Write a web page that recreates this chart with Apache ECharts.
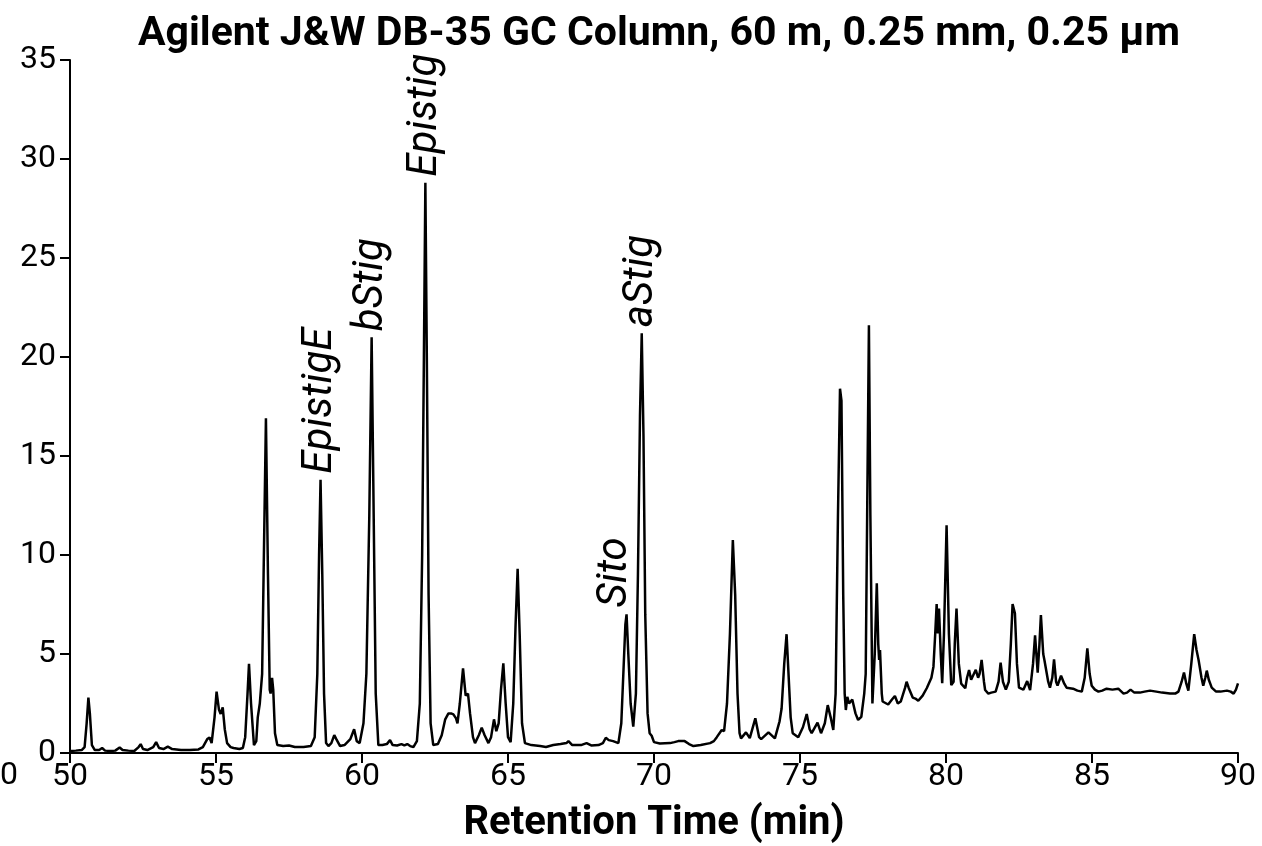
<!DOCTYPE html>
<html>
<head>
<meta charset="utf-8">
<script src="https://cdn.jsdelivr.net/npm/echarts@6/dist/echarts.min.js"></script>
<style>
  html, body { margin: 0; padding: 0; background: #fff; }
  #chart { width: 1262px; height: 846px; }
</style>
</head>
<body>
<div id="chart"></div>
<script>
// retention time (min) and detector signal
var retentionTime = [
  50.0, 50.2, 50.4, 50.5, 50.57, 50.63, 50.68, 50.75, 50.85, 51.0, 51.1, 51.2, 51.4, 51.55, 51.7, 51.8,
  52.0, 52.2, 52.35, 52.42, 52.5, 52.65, 52.85, 52.95, 53.05, 53.2, 53.35, 53.5, 53.8, 54.1, 54.4, 54.55,
  54.7, 54.78, 54.85, 54.95, 55.02, 55.1, 55.16, 55.23, 55.3, 55.38, 55.5, 55.6, 55.8, 55.92, 56.0, 56.08,
  56.13, 56.2, 56.3, 56.38, 56.43, 56.5, 56.58, 56.63, 56.71, 56.78, 56.84, 56.87, 56.92, 56.96, 57.02, 57.1,
  57.3, 57.5, 57.7, 58.0, 58.25, 58.38, 58.47, 58.53, 58.58, 58.64, 58.7, 58.77, 58.85, 58.95, 59.05, 59.12,
  59.25, 59.4, 59.6, 59.73, 59.82, 59.92, 60.05, 60.15, 60.25, 60.33, 60.4, 60.47, 60.56, 60.7, 60.85, 60.96,
  61.05, 61.2, 61.35, 61.45, 61.55, 61.65, 61.76, 61.88, 61.98, 62.06, 62.12, 62.17, 62.22, 62.28, 62.35, 62.44,
  62.6, 62.73, 62.85, 62.96, 63.05, 63.13, 63.22, 63.27, 63.35, 63.46, 63.55, 63.63, 63.7, 63.8, 63.87, 64.0,
  64.1, 64.2, 64.33, 64.42, 64.52, 64.6, 64.68, 64.76, 64.84, 64.92, 65.0, 65.09, 65.18, 65.26, 65.33, 65.4,
  65.48, 65.58, 65.8, 66.1, 66.3, 66.55, 66.8, 67.0, 67.07, 67.2, 67.5, 67.69, 67.85, 68.1, 68.25, 68.35,
  68.45, 68.6, 68.78, 68.88, 68.95, 69.02, 69.06, 69.12, 69.2, 69.29, 69.38, 69.45, 69.52, 69.58, 69.64, 69.7,
  69.78, 69.85, 69.92, 70.0, 70.2, 70.55, 70.7, 70.83, 70.89, 71.05, 71.2, 71.35, 71.6, 71.92, 72.05, 72.15,
  72.32, 72.4, 72.5, 72.6, 72.7, 72.78, 72.86, 72.93, 72.98, 73.15, 73.28, 73.47, 73.6, 73.67, 73.92, 74.14,
  74.3, 74.37, 74.46, 74.54, 74.6, 74.68, 74.75, 74.94, 75.1, 75.23, 75.33, 75.4, 75.6, 75.72, 75.85, 75.95,
  76.05, 76.14, 76.22, 76.3, 76.37, 76.42, 76.48, 76.53, 76.57, 76.62, 76.68, 76.79, 76.9, 76.99, 77.1, 77.2,
  77.25, 77.3, 77.36, 77.41, 77.48, 77.56, 77.63, 77.68, 77.71, 77.74, 77.8, 77.83, 78.02, 78.15, 78.25, 78.35,
  78.45, 78.6, 78.65, 78.72, 78.86, 78.95, 79.05, 79.2, 79.34, 79.5, 79.57, 79.63, 79.68, 79.72, 79.76, 79.82,
  79.87, 79.93, 80.02, 80.1, 80.18, 80.26, 80.3, 80.36, 80.44, 80.52, 80.66, 80.72, 80.79, 80.86, 80.92, 81.02,
  81.1, 81.15, 81.22, 81.3, 81.34, 81.45, 81.55, 81.7, 81.8, 81.87, 81.95, 82.05, 82.15, 82.22, 82.28, 82.36,
  82.43, 82.5, 82.65, 82.78, 82.88, 82.98, 83.05, 83.14, 83.2, 83.25, 83.33, 83.37, 83.42, 83.5, 83.56, 83.64,
  83.7, 83.77, 83.82, 83.94, 84.05, 84.13, 84.35, 84.5, 84.65, 84.75, 84.84, 84.92, 84.99, 85.1, 85.22, 85.35,
  85.5, 85.7, 85.9, 86.08, 86.2, 86.32, 86.45, 86.64, 86.8, 86.99, 87.2, 87.4, 87.67, 87.85, 87.96, 88.07,
  88.15, 88.23, 88.3, 88.4, 88.5, 88.58, 88.65, 88.75, 88.81, 88.88, 88.93, 89.0, 89.1, 89.25, 89.4, 89.62,
  89.75, 89.85, 89.93, 90.0
];
var signal = [
  0.1, 0.12, 0.15, 0.3, 1.5, 2.8, 2.0, 0.4, 0.15, 0.15, 0.25, 0.12, 0.1, 0.12, 0.28, 0.15,
  0.12, 0.1, 0.3, 0.45, 0.2, 0.15, 0.3, 0.55, 0.25, 0.2, 0.32, 0.2, 0.15, 0.15, 0.18, 0.3,
  0.7, 0.78, 0.5, 1.8, 3.1, 2.2, 1.97, 2.3, 1.2, 0.5, 0.3, 0.25, 0.2, 0.25, 0.8, 3.0,
  4.5, 2.5, 0.4, 0.6, 1.8, 2.5, 4.0, 9.0, 16.9, 9.0, 3.2, 3.0, 3.8, 3.2, 1.0, 0.4,
  0.35, 0.38, 0.3, 0.3, 0.35, 0.8, 4.0, 10.0, 13.8, 9.0, 3.0, 0.5, 0.35, 0.5, 0.9, 0.7,
  0.35, 0.4, 0.7, 1.2, 0.6, 0.5, 1.5, 4.0, 12.0, 21.0, 12.0, 3.0, 0.4, 0.4, 0.45, 0.65,
  0.4, 0.38, 0.45, 0.38, 0.45, 0.35, 0.3, 0.6, 2.5, 10.0, 20.0, 28.8, 20.0, 8.0, 1.5, 0.4,
  0.45, 0.9, 1.7, 2.0, 2.0, 1.95, 1.75, 1.5, 2.5, 4.27, 2.9, 3.0, 2.0, 0.8, 0.5, 0.9,
  1.28, 0.9, 0.5, 0.8, 1.7, 1.1, 1.5, 3.2, 4.53, 2.5, 0.8, 0.55, 2.5, 6.5, 9.3, 6.0,
  1.5, 0.5, 0.4, 0.35, 0.3, 0.4, 0.45, 0.5, 0.6, 0.4, 0.4, 0.5, 0.38, 0.4, 0.5, 0.77,
  0.65, 0.6, 0.5, 1.5, 4.0, 6.5, 7.0, 5.0, 2.5, 1.33, 3.0, 9.0, 17.0, 21.2, 16.0, 7.0,
  2.0, 1.0, 0.87, 0.55, 0.48, 0.5, 0.55, 0.6, 0.62, 0.6, 0.45, 0.35, 0.4, 0.5, 0.6, 0.8,
  1.16, 1.1, 2.5, 6.0, 10.75, 8.0, 3.0, 1.0, 0.74, 1.04, 0.75, 1.75, 0.8, 0.7, 1.04, 0.74,
  1.6, 2.25, 4.5, 6.0, 4.2, 1.8, 1.0, 0.8, 1.3, 1.97, 1.2, 1.0, 1.53, 1.0, 1.5, 2.42,
  1.8, 1.16, 3.0, 12.0, 18.4, 17.8, 8.0, 3.0, 2.17, 2.84, 2.5, 2.7, 2.0, 1.67, 1.83, 3.0,
  4.0, 12.0, 21.6, 12.0, 2.5, 5.0, 8.57, 5.5, 4.7, 5.2, 3.0, 2.6, 2.45, 2.7, 2.88, 2.5,
  2.6, 3.3, 3.6, 3.3, 2.8, 2.75, 2.64, 2.9, 3.27, 3.8, 4.36, 6.0, 7.52, 6.04, 7.3, 5.0,
  3.52, 6.0, 11.5, 6.0, 3.43, 3.6, 5.5, 7.3, 4.5, 3.5, 3.27, 3.8, 4.19, 3.7, 3.8, 4.2,
  3.8, 4.0, 4.7, 3.6, 3.18, 3.0, 3.05, 3.1, 3.6, 4.56, 3.6, 3.2, 3.6, 5.5, 7.52, 7.05,
  4.5, 3.3, 3.2, 3.63, 3.18, 4.5, 5.94, 4.06, 5.5, 6.97, 5.0, 4.7, 4.6, 3.6, 3.3, 3.8,
  4.73, 3.6, 3.4, 3.9, 3.5, 3.3, 3.25, 3.15, 3.1, 3.8, 5.29, 4.0, 3.4, 3.2, 3.1, 3.15,
  3.25, 3.2, 3.25, 3.0, 3.05, 3.2, 3.05, 3.05, 3.1, 3.15, 3.1, 3.05, 3.0, 3.0, 3.1, 3.6,
  4.06, 3.5, 3.15, 4.5, 6.0, 5.2, 4.7, 3.8, 3.4, 3.8, 4.16, 3.7, 3.3, 3.1, 3.1, 3.15,
  3.1, 3.0, 3.2, 3.52
];

// labelled compounds
var peakNames = ['EpistigE', 'bStig', 'Epistig', 'Sito', 'aStig'];
var peakTimes = [58.58, 60.33, 62.17, 69.06, 69.58];
var peakHeights = [13.8, 21.0, 28.8, 7.0, 21.2];

var xTicks = [50, 55, 60, 65, 70, 75, 80, 85, 90];
var yTicks = [0, 5, 10, 15, 20, 25, 30, 35];

var FONT = 'Roboto, "Noto Sans", sans-serif';

var chart = echarts.init(document.getElementById('chart'));

var seriesData = retentionTime.map(function (t, i) { return [t, signal[i]]; });

// label offsets are in the rotated text frame: +x moves the text up the page
var markData = peakNames.map(function (name, i) {
  var off = name === 'Sito' ? [7, -11] : [6, 0];
  return {
    name: name,
    coord: [peakTimes[i], peakHeights[i]],
    label: { offset: off }
  };
});

var option = {
  animation: false,
  backgroundColor: '#fff',
  title: {
    text: 'Agilent J&W DB-35 GC Column, 60 m, 0.25 mm, 0.25 µm',
    left: 654,
    top: 9,
    textAlign: 'center',
    textStyle: { fontFamily: FONT, fontWeight: 'bold', fontSize: 41, color: '#000' }
  },
  grid: { left: 70, right: 24, top: 60, bottom: 93, outerBoundsMode: 'none' },
  xAxis: {
    type: 'value',
    min: xTicks[0],
    max: xTicks[xTicks.length - 1],
    interval: 5,
    name: 'Retention Time (min)',
    nameLocation: 'middle',
    nameGap: 51,
    nameTextStyle: { fontFamily: FONT, fontWeight: 'bold', fontSize: 40, color: '#000' },
    axisLine: { onZero: false, lineStyle: { color: '#000', width: 2 } },
    axisTick: { show: true, inside: false, length: 10, lineStyle: { color: '#000', width: 2 } },
    axisLabel: { fontFamily: FONT, fontSize: 32, color: '#000', margin: 8 },
    splitLine: { show: false }
  },
  yAxis: {
    type: 'value',
    min: yTicks[0],
    max: yTicks[yTicks.length - 1],
    interval: 5,
    axisLine: { show: true, lineStyle: { color: '#000', width: 2 } },
    axisTick: { show: true, inside: false, length: 10, lineStyle: { color: '#000', width: 2 } },
    axisLabel: { fontFamily: FONT, fontSize: 32, color: '#000', margin: 14 },
    splitLine: { show: false }
  },
  graphic: [{
    type: 'text',
    left: 0,
    top: 760,
    style: { text: '0', fontFamily: FONT, fontSize: 32, fill: '#000' }
  }],
  series: [{
    type: 'line',
    data: seriesData,
    showSymbol: false,
    symbol: 'none',
    lineStyle: { color: '#000', width: 2.5 },
    markPoint: {
      symbol: 'circle',
      symbolSize: 0,
      silent: true,
      itemStyle: { color: 'rgba(0,0,0,0)' },
      label: {
        show: true,
        position: 'inside',
        rotate: 90,
        align: 'left',
        verticalAlign: 'middle',
        fontFamily: FONT,
        fontStyle: 'italic',
        fontSize: 42,
        color: '#000',
        formatter: '{b}'
      },
      data: markData
    }
  }]
};

chart.setOption(option);
</script>
</body>
</html>
